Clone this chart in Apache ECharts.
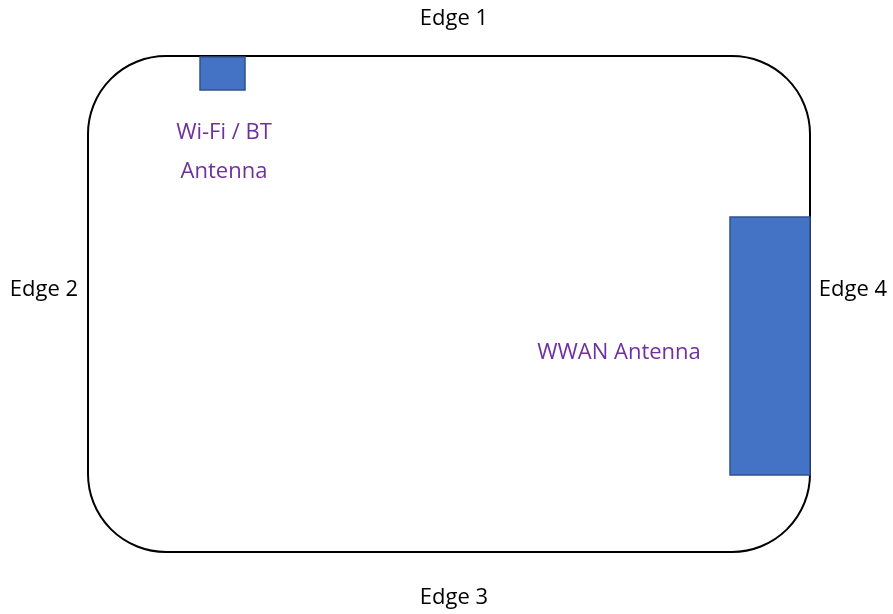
<!DOCTYPE html>
<html>
<head>
<meta charset="utf-8">
<script src="https://cdn.jsdelivr.net/npm/echarts@6/dist/echarts.min.js"></script>
<style>html,body{margin:0;padding:0;background:#fff;}#main{width:893px;height:614px;}</style>
</head>
<body>
<div id="main"></div>
<script>
// Device outline [x0, y0, x1, y1] in diagram units
const outline = [[88, 56, 810, 552]];
// Antenna blocks [x0, y0, x1, y1]
const antennas = [[200, 57, 245, 90], [730, 217, 810, 475]];
// Antenna labels [x, y, text]
const antennaLabels = [[224, 133, 'Wi-Fi / BT'], [224, 172, 'Antenna'], [619, 353, 'WWAN Antenna']];
// Edge labels [x, y, text]
const edgeLabels = [[454, 19, 'Edge 1'], [44, 290, 'Edge 2'], [454, 598, 'Edge 3'], [853, 290, 'Edge 4']];

const chart = echarts.init(document.getElementById('main'));
function rectItem(params, api, style, r) {
  const p0 = api.coord([api.value(0), api.value(1)]);
  const p1 = api.coord([api.value(2), api.value(3)]);
  return {
    type: 'rect',
    shape: { x: Math.min(p0[0], p1[0]), y: Math.min(p0[1], p1[1]), width: Math.abs(p1[0] - p0[0]), height: Math.abs(p1[1] - p0[1]), r: r },
    style: style
  };
}
function textItem(color) {
  return function (params, api) {
    const p = api.coord([api.value(0), api.value(1)]);
    return {
      type: 'text',
      x: p[0], y: p[1],
      style: { text: api.value(2), fill: color, font: '22px "Open Sans", "Noto Sans", sans-serif', align: 'center', verticalAlign: 'middle' }
    };
  };
}
chart.setOption({
  animation: false,
  grid: { left: 0, right: 0, top: 0, bottom: 0 },
  xAxis: { type: 'value', min: 0, max: 893, show: false },
  yAxis: { type: 'value', min: 0, max: 614, inverse: true, show: false },
  series: [
    {
      type: 'custom', data: outline, silent: true,
      renderItem: (p, api) => rectItem(p, api, { fill: '#fff', stroke: '#000', lineWidth: 2 }, 78)
    },
    {
      type: 'custom', data: antennas, silent: true,
      renderItem: (p, api) => rectItem(p, api, { fill: '#4472C4', stroke: '#2F528F', lineWidth: 1.5 }, 0)
    },
    {
      type: 'custom', data: antennaLabels, silent: true,
      dimensions: ['x', 'y', { name: 't', type: 'ordinal' }],
      renderItem: textItem('#7030A0')
    },
    {
      type: 'custom', data: edgeLabels, silent: true,
      dimensions: ['x', 'y', { name: 't', type: 'ordinal' }],
      renderItem: textItem('#000')
    }
  ]
});
</script>
</body>
</html>
